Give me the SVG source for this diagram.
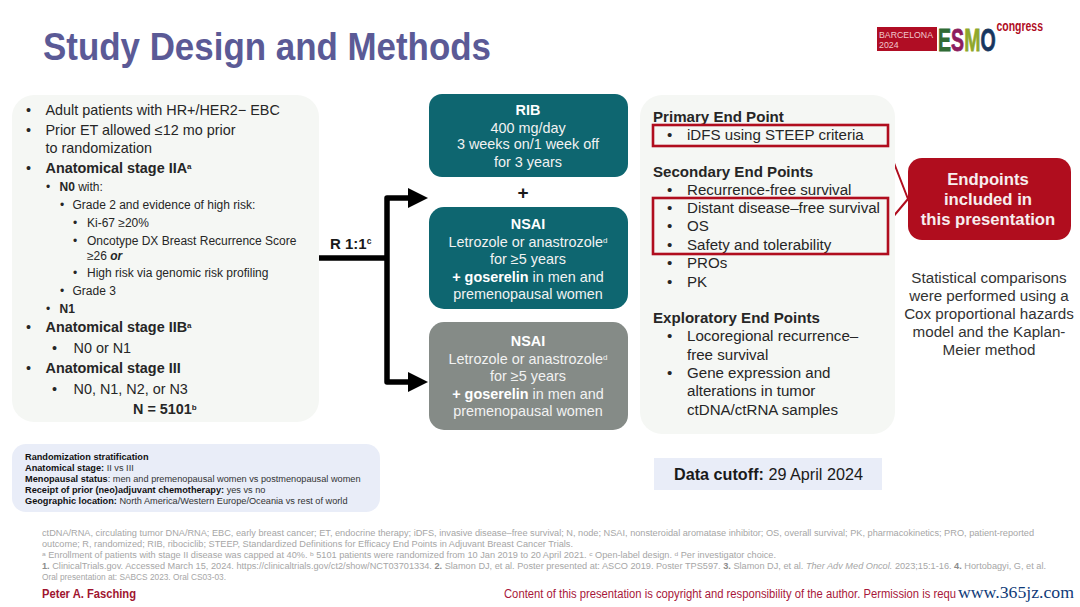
<svg xmlns="http://www.w3.org/2000/svg" width="1080" height="607" viewBox="0 0 1080 607">
<style>
text{font-family:"Liberation Sans",Arial,sans-serif;fill:#262626}
.b{font-weight:700}
.m{font-size:14.4px}
.s{font-size:12px}
.e{font-size:15.100px}
.w{fill:#f2f2f2;font-size:14.4px;text-anchor:middle}
.wb{fill:#fff;font-weight:700}
.f text{font-size:8.3px;fill:#a6a6a6}
.f tspan.d{fill:#8c8c8c;font-weight:700}
.st{font-size:9.2px;fill:#333}
.st .b{fill:#111}
.c{font-size:15.2px;text-anchor:middle;fill:#333}
.box{fill:none;stroke:#b00d1e;stroke-width:2.6}
.logo{font-size:32px;font-weight:700;stroke-width:.8px}
</style>
<rect width="1080" height="607" fill="#fff"/>
<text x="43" y="60" font-size="39" class="b" style="fill:#5b5a96" textLength="448" lengthAdjust="spacingAndGlyphs">Study Design and Methods</text>
<g id="logo">
<rect x="877" y="27" width="60" height="24" fill="#b00d24"/>
<text x="879" y="37.500" font-size="8.800" style="fill:#f0c8cc" textLength="54" lengthAdjust="spacingAndGlyphs">BARCELONA</text>
<text x="879" y="47.500" font-size="8.800" style="fill:#f0c8cc">2024</text>
<text class="logo" transform="translate(938 51) scale(.61 1)" style="fill:#2f6b35;stroke:#2f6b35">E</text>
<text class="logo" transform="translate(951.100 51) scale(.61 1)" style="fill:#8c1d5e;stroke:#8c1d5e">S</text>
<text class="logo" transform="translate(964.200 51) scale(.61 1)" style="fill:#8fa82b;stroke:#8fa82b">M</text>
<text class="logo" transform="translate(980.500 51) scale(.61 1)" style="fill:#17365f;stroke:#17365f">O</text>
<text x="996.500" y="31" font-size="14" class="b" style="fill:#b00d24" textLength="46.500" lengthAdjust="spacingAndGlyphs">congress</text>
</g>
<g id="population">
<rect x="12" y="95" width="307" height="327" rx="22" fill="#f5f7f4"/>
<g class="m">
<text x="26" y="115">•</text><text x="45.500" y="115">Adult patients with HR+/HER2− EBC</text>
<text x="26" y="135">•</text><text x="45.500" y="135">Prior ET allowed ≤12 mo prior</text>
<text x="45.500" y="153">to randomization</text>
<text x="26" y="173">•</text><text x="45.500" y="173" class="b">Anatomical stage IIA<tspan font-size="8" dy="-4">a</tspan></text>
<text x="26" y="332">•</text><text x="45.500" y="332" class="b">Anatomical stage IIB<tspan font-size="8" dy="-4">a</tspan></text>
<text x="52" y="353">•</text><text x="73.500" y="353">N0 or N1</text>
<text x="26" y="373">•</text><text x="45.500" y="373" class="b">Anatomical stage III</text>
<text x="52" y="394">•</text><text x="73.500" y="394">N0, N1, N2, or N3</text>
<text x="133" y="414" class="b">N = 5101<tspan font-size="8" dy="-4">b</tspan></text>
</g>
<g class="s">
<text x="46" y="191">•</text><text x="59.500" y="191"><tspan class="b">N0</tspan> with:</text>
<text x="60" y="209">•</text><text x="72.500" y="209">Grade 2 and evidence of high risk:</text>
<text x="73" y="227">•</text><text x="87" y="227">Ki-67 ≥20%</text>
<text x="73" y="245">•</text><text x="87" y="245">Oncotype DX Breast Recurrence Score</text>
<text x="87" y="260">≥26 <tspan class="b" font-style="italic">or</tspan></text>
<text x="73" y="277">•</text><text x="87" y="277">High risk via genomic risk profiling</text>
<text x="60" y="295">•</text><text x="72.500" y="295">Grade 3</text>
<text x="46" y="313">•</text><text x="59.500" y="313" class="b">N1</text>
</g>
</g>
<g id="connectors">
<path d="M319 258H387M387 258V198H410M387 198V382H410" fill="none" stroke="#000" stroke-width="5.500" stroke-linejoin="round"/>
<path d="M408 188L428 198L408 208Z" fill="#000"/>
<path d="M408 372L428 382L408 392Z" fill="#000"/>
<path d="M887 145L908 199M887 224L908 199" fill="none" stroke="#b00d1e" stroke-width="2"/>
</g>
<text x="330" y="249" font-size="15" class="b" style="fill:#1a1a1a">R 1:1<tspan font-size="8.500" dy="-5">c</tspan></text>
<g id="arm-rib">
<rect x="429" y="94" width="199" height="83" rx="13" fill="#0e6670"/>
<text class="w"><tspan x="528" y="115" class="wb">RIB</tspan><tspan x="528" y="133">400 mg/day</tspan><tspan x="528" y="149">3 weeks on/1 week off</tspan><tspan x="528" y="167">for 3 years</tspan></text>
</g>
<text x="523" y="199" font-size="19" class="b" text-anchor="middle" style="fill:#1a1a1a">+</text>
<g id="arm-nsai-1">
<rect x="429" y="207" width="199" height="102" rx="15" fill="#0e6670"/>
<text class="w"><tspan x="528" y="229" class="wb">NSAI</tspan><tspan x="528" y="247">Letrozole or anastrozole<tspan font-size="8" dy="-4">d</tspan></tspan><tspan x="528" y="264">for ≥5 years</tspan><tspan x="528" y="282"><tspan class="wb">+ goserelin</tspan> in men and</tspan><tspan x="528" y="299">premenopausal women</tspan></text>
</g>
<g id="arm-nsai-2">
<rect x="429" y="322" width="199" height="108" rx="15" fill="#858b87"/>
<text class="w"><tspan x="528" y="346" class="wb">NSAI</tspan><tspan x="528" y="364">Letrozole or anastrozole<tspan font-size="8" dy="-4">d</tspan></tspan><tspan x="528" y="381">for ≥5 years</tspan><tspan x="528" y="399"><tspan class="wb">+ goserelin</tspan> in men and</tspan><tspan x="528" y="416">premenopausal women</tspan></text>
</g>
<g id="endpoints">
<rect x="640" y="95" width="255" height="339" rx="22" fill="#f5f7f4"/>
<g class="e">
<text x="653" y="122" class="b">Primary End Point</text>
<text x="667" y="140">•</text><text x="687" y="140">iDFS using STEEP criteria</text>
<text x="653" y="177" class="b">Secondary End Points</text>
<text x="667" y="195">•</text><text x="687" y="195">Recurrence-free survival</text>
<text x="667" y="213">•</text><text x="687" y="213">Distant disease–free survival</text>
<text x="667" y="231">•</text><text x="687" y="231">OS</text>
<text x="667" y="250">•</text><text x="687" y="250">Safety and tolerability</text>
<text x="667" y="268">•</text><text x="687" y="268">PROs</text>
<text x="667" y="287">•</text><text x="687" y="287">PK</text>
<text x="653" y="323" class="b">Exploratory End Points</text>
<text x="667" y="341">•</text><text x="687" y="341">Locoregional recurrence–</text>
<text x="687" y="360">free survival</text>
<text x="667" y="378">•</text><text x="687" y="378">Gene expression and</text>
<text x="687" y="396">alterations in tumor</text>
<text x="687" y="415">ctDNA/ctRNA samples</text>
</g>
<rect class="box" x="653" y="125" width="235" height="21"/>
<rect class="box" x="653" y="198" width="235" height="56"/>
</g>
<g id="callout">
<rect x="908" y="158" width="163" height="82" rx="14" fill="#b00d1e"/>
<text font-size="16.700" class="b" text-anchor="middle" style="fill:#f7eeee"><tspan x="988" y="185">Endpoints</tspan><tspan x="988" y="205">included in</tspan><tspan x="988" y="225">this presentation</tspan></text>
</g>
<text class="c"><tspan x="989" y="283">Statistical comparisons</tspan><tspan x="989" y="301">were performed using a</tspan><tspan x="989" y="319">Cox proportional hazards</tspan><tspan x="989" y="337">model and the Kaplan-</tspan><tspan x="989" y="355">Meier method</tspan></text>
<g id="stratification">
<rect x="12" y="444" width="368" height="68" rx="14" fill="#e9edf8"/>
<text class="st">
<tspan x="25" y="460" class="b">Randomization stratification</tspan>
<tspan x="25" y="471" class="b">Anatomical stage:</tspan><tspan> II vs III</tspan>
<tspan x="25" y="482" class="b">Menopausal status</tspan><tspan>: men and premenopausal women vs postmenopausal women</tspan>
<tspan x="25" y="493" class="b">Receipt of prior (neo)adjuvant chemotherapy:</tspan><tspan> yes vs no</tspan>
<tspan x="25" y="504" class="b">Geographic location:</tspan><tspan> North America/Western Europe/Oceania vs rest of world</tspan>
</text>
</g>
<g id="cutoff">
<rect x="654" y="458" width="228" height="32" fill="#e9edf8"/>
<text x="674" y="480" font-size="16.200" style="fill:#1a1a1a"><tspan class="b">Data cutoff:</tspan> 29 April 2024</text>
</g>
<g class="f">
<text x="42" y="536" textLength="992" lengthAdjust="spacingAndGlyphs">ctDNA/RNA, circulating tumor DNA/RNA; EBC, early breast cancer; ET, endocrine therapy; iDFS, invasive disease–free survival; N, node; NSAI, nonsteroidal aromatase inhibitor; OS, overall survival; PK, pharmacokinetics; PRO, patient-reported</text>
<text x="42" y="547" textLength="531" lengthAdjust="spacingAndGlyphs">outcome; R, randomized; RIB, ribociclib; STEEP, Standardized Definitions for Efficacy End Points in Adjuvant Breast Cancer Trials.</text>
<text x="42" y="558" textLength="734" lengthAdjust="spacingAndGlyphs"><tspan font-size="6" dy="-2">a</tspan><tspan dy="2"> Enrollment of patients with stage II disease was capped at 40%. </tspan><tspan font-size="6" dy="-2">b</tspan><tspan dy="2"> 5101 patients were randomized from 10 Jan 2019 to 20 April 2021. </tspan><tspan font-size="6" dy="-2">c</tspan><tspan dy="2"> Open-label design. </tspan><tspan font-size="6" dy="-2">d</tspan><tspan dy="2"> Per investigator choice.</tspan></text>
<text x="42" y="569" textLength="1004" lengthAdjust="spacingAndGlyphs"><tspan class="d">1.</tspan> ClinicalTrials.gov. Accessed March 15, 2024. https://clinicaltrials.gov/ct2/show/NCT03701334. <tspan class="d">2.</tspan> Slamon DJ, et al. Poster presented at: ASCO 2019. Poster TPS597. <tspan class="d">3.</tspan> Slamon DJ, et al. <tspan font-style="italic">Ther Adv Med Oncol.</tspan> 2023;15:1-16. <tspan class="d">4.</tspan> Hortobagyi, G, et al.</text>
<text x="42" y="580">Oral presentation at: SABCS 2023. Oral CS03-03.</text>
</g>
<text x="42" y="598" font-size="12.500" class="b" style="fill:#a01530" textLength="94" lengthAdjust="spacingAndGlyphs">Peter A. Fasching</text>
<text x="504" y="598" font-size="12.500" style="fill:#a8173a" textLength="452" lengthAdjust="spacingAndGlyphs">Content of this presentation is copyright and responsibility of the author. Permission is requ</text>
<text x="958" y="598" font-size="16" style="font-family:'Liberation Serif',serif;fill:#0f3a78" textLength="116" lengthAdjust="spacingAndGlyphs">www.365jz.com</text>
</svg>
